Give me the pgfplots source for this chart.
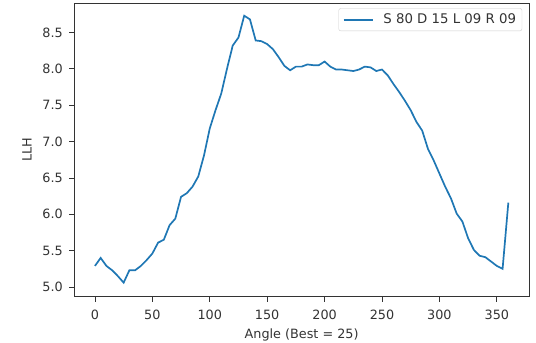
\documentclass[border=0pt]{standalone}
\usepackage{fontspec}
\setmainfont{DejaVu Sans}
\usepackage{pgfplots}
\pgfplotsset{compat=1.18}
\definecolor{mplblue}{HTML}{1F77B4}
\begin{document}
\begin{tikzpicture}
\begin{axis}[
  scale only axis,
  width=455pt, height=294pt,
  xmin=-18, xmax=378, ymin=4.865, ymax=8.905,
  xtick={0,50,100,150,200,250,300,350},
  ytick={5.0,5.5,6.0,6.5,7.0,7.5,8.0,8.5},
  yticklabel style={xshift=-3pt, /pgf/number format/fixed, /pgf/number format/fixed zerofill, /pgf/number format/precision=1},
  /pgf/number format/assume math mode=true,
  tick align=outside, tick pos=left,
  major tick length=5pt,
  tick style={black!80, line width=0.8pt},
  axis line style={black!80, line width=0.8pt},
  ticklabel style={font=\fontsize{12.8}{14}\selectfont, text=black!80},
  xticklabel style={yshift=-5pt},
  label style={font=\fontsize{12.8}{14}\selectfont, text=black!80},
  xlabel={Angle (Best = 25)},
  ylabel={LLH},
  xlabel style={yshift=-2pt},
  ylabel style={yshift=4pt},
  legend style={at={(0.985,0.982)}, anchor=north east, draw=black!20, rounded corners=2pt,
    font=\fontsize{13.3}{15}\selectfont, text=black!80, inner xsep=4pt, inner ysep=3.5pt,
    /tikz/every odd column/.append style={column sep=8pt}},
  legend image code/.code={\draw[#1] (0pt,0pt) -- (29pt,0pt);},
]
\addplot[mplblue, line width=1.7pt] coordinates {
(0,5.29) (5,5.40) (10,5.29) (15,5.23) (20,5.15) (25,5.06) (30,5.23) (35,5.23)
(40,5.29) (45,5.37) (50,5.46) (55,5.61) (60,5.65) (65,5.85) (70,5.94) (75,6.24)
(80,6.29) (85,6.38) (90,6.52) (95,6.81) (100,7.18) (105,7.43) (110,7.66) (115,8.00)
(120,8.32) (125,8.43) (130,8.73) (135,8.68) (140,8.39) (145,8.38) (150,8.34) (155,8.27)
(160,8.16) (165,8.04) (170,7.98) (175,8.03) (180,8.03) (185,8.06) (190,8.05) (195,8.05)
(200,8.10) (205,8.03) (210,7.99) (215,7.99) (220,7.98) (225,7.97) (230,7.99) (235,8.03)
(240,8.02) (245,7.97) (250,7.99) (255,7.91) (260,7.79) (265,7.68) (270,7.56) (275,7.43)
(280,7.27) (285,7.15) (290,6.90) (295,6.74) (300,6.56) (305,6.38) (310,6.22) (315,6.01)
(320,5.90) (325,5.67) (330,5.51) (335,5.43) (340,5.41) (345,5.35) (350,5.29) (355,5.25)
(360,6.16)
};
\addlegendentry{S 80 D 15 L 09 R 09}
\end{axis}
\pgfresetboundingbox
\path (current axis.south west) ++(-74.3pt,-45.7pt) coordinate (bbsw);
\path (current axis.north east) ++(7pt,3pt) coordinate (bbne);
\useasboundingbox (bbsw) rectangle (bbne);
\end{tikzpicture}
\end{document}
